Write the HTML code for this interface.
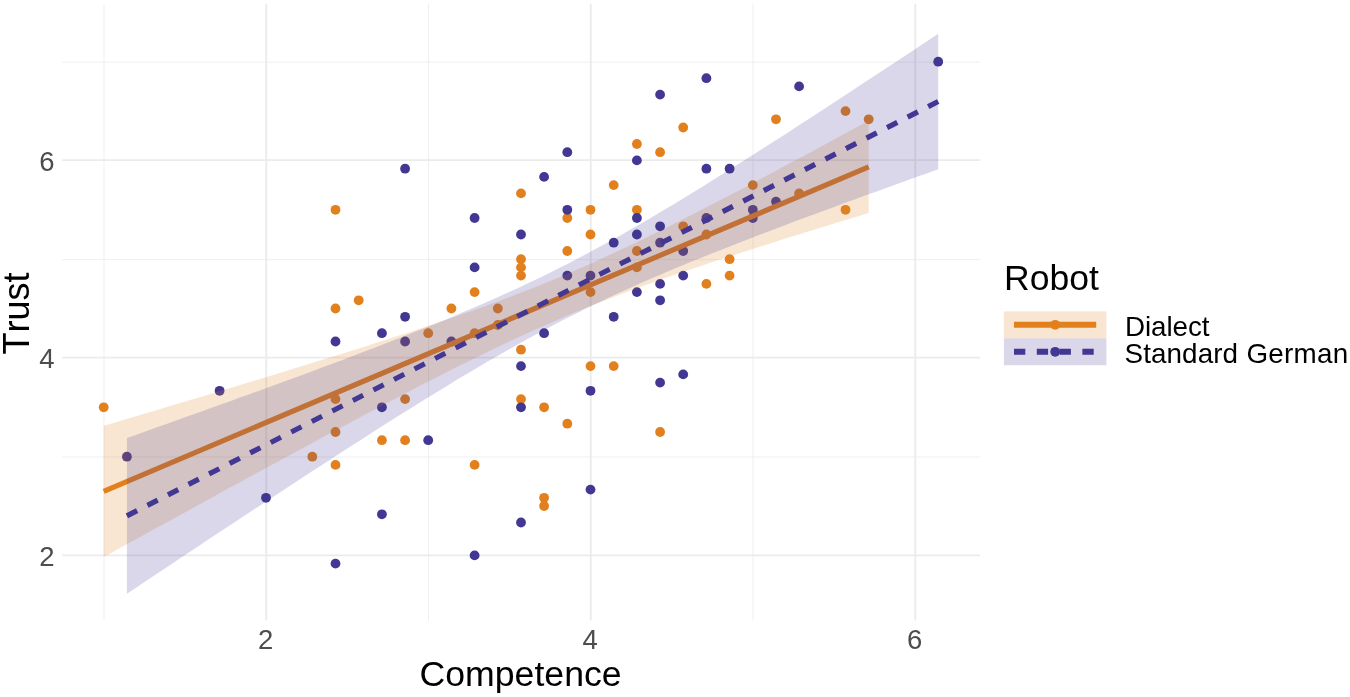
<!DOCTYPE html>
<html lang="en"><head><meta charset="utf-8"><title>Trust vs Competence</title>
<style>html,body{margin:0;padding:0;background:#fff}body{width:1350px;height:697px;overflow:hidden}</style></head>
<body>
<svg width="1350" height="697" viewBox="0 0 1350 697" style="display:block;will-change:transform">
<rect x="0" y="0" width="1350" height="697" fill="#ffffff"/>
<g stroke="#EBEBEB" fill="none">
<line x1="62.2" x2="980.2" y1="457.00" y2="457.00" stroke-width="0.8"/>
<line x1="62.2" x2="980.2" y1="259.60" y2="259.60" stroke-width="0.8"/>
<line x1="62.2" x2="980.2" y1="62.20" y2="62.20" stroke-width="0.8"/>
<line x1="104.00" x2="104.00" y1="3.8" y2="620.5" stroke-width="0.8"/>
<line x1="428.50" x2="428.50" y1="3.8" y2="620.5" stroke-width="0.8"/>
<line x1="753.00" x2="753.00" y1="3.8" y2="620.5" stroke-width="0.8"/>
<line x1="62.2" x2="980.2" y1="555.40" y2="555.40" stroke-width="1.8"/>
<line x1="62.2" x2="980.2" y1="357.60" y2="357.60" stroke-width="1.8"/>
<line x1="62.2" x2="980.2" y1="160.10" y2="160.10" stroke-width="1.8"/>
<line x1="266.25" x2="266.25" y1="3.8" y2="620.5" stroke-width="1.8"/>
<line x1="590.75" x2="590.75" y1="3.8" y2="620.5" stroke-width="1.8"/>
<line x1="915.25" x2="915.25" y1="3.8" y2="620.5" stroke-width="1.8"/>
</g>
<g fill="#E2801E">
<circle cx="103.7" cy="407.3" r="4.9"/>
<circle cx="335.5" cy="399.1" r="4.9"/>
<circle cx="405.1" cy="399.1" r="4.9"/>
<circle cx="335.5" cy="432.0" r="4.9"/>
<circle cx="381.9" cy="440.2" r="4.9"/>
<circle cx="405.1" cy="440.2" r="4.9"/>
<circle cx="312.3" cy="456.7" r="4.9"/>
<circle cx="335.5" cy="464.9" r="4.9"/>
<circle cx="335.5" cy="209.8" r="4.9"/>
<circle cx="521.0" cy="193.4" r="4.9"/>
<circle cx="521.0" cy="259.2" r="4.9"/>
<circle cx="521.0" cy="267.4" r="4.9"/>
<circle cx="521.0" cy="275.6" r="4.9"/>
<circle cx="474.6" cy="292.1" r="4.9"/>
<circle cx="335.5" cy="308.5" r="4.9"/>
<circle cx="358.7" cy="300.3" r="4.9"/>
<circle cx="451.4" cy="308.5" r="4.9"/>
<circle cx="497.8" cy="308.5" r="4.9"/>
<circle cx="428.2" cy="333.2" r="4.9"/>
<circle cx="474.6" cy="333.2" r="4.9"/>
<circle cx="497.8" cy="325.0" r="4.9"/>
<circle cx="521.0" cy="349.7" r="4.9"/>
<circle cx="521.0" cy="399.1" r="4.9"/>
<circle cx="544.1" cy="407.3" r="4.9"/>
<circle cx="567.3" cy="423.7" r="4.9"/>
<circle cx="660.1" cy="432.0" r="4.9"/>
<circle cx="474.6" cy="464.9" r="4.9"/>
<circle cx="544.1" cy="497.8" r="4.9"/>
<circle cx="544.1" cy="506.0" r="4.9"/>
<circle cx="776.0" cy="119.3" r="4.9"/>
<circle cx="683.2" cy="127.5" r="4.9"/>
<circle cx="636.9" cy="144.0" r="4.9"/>
<circle cx="660.1" cy="152.2" r="4.9"/>
<circle cx="613.7" cy="185.1" r="4.9"/>
<circle cx="752.8" cy="185.1" r="4.9"/>
<circle cx="567.3" cy="218.0" r="4.9"/>
<circle cx="567.3" cy="251.0" r="4.9"/>
<circle cx="590.5" cy="209.8" r="4.9"/>
<circle cx="590.5" cy="234.5" r="4.9"/>
<circle cx="590.5" cy="292.1" r="4.9"/>
<circle cx="636.9" cy="209.8" r="4.9"/>
<circle cx="636.9" cy="251.0" r="4.9"/>
<circle cx="636.9" cy="267.4" r="4.9"/>
<circle cx="683.2" cy="226.3" r="4.9"/>
<circle cx="706.4" cy="234.5" r="4.9"/>
<circle cx="706.4" cy="283.9" r="4.9"/>
<circle cx="729.6" cy="259.2" r="4.9"/>
<circle cx="729.6" cy="275.6" r="4.9"/>
<circle cx="799.1" cy="193.4" r="4.9"/>
<circle cx="590.5" cy="366.1" r="4.9"/>
<circle cx="613.7" cy="366.1" r="4.9"/>
<circle cx="845.5" cy="111.1" r="4.9"/>
<circle cx="868.7" cy="119.3" r="4.9"/>
<circle cx="845.5" cy="209.8" r="4.9"/>
</g>
<g fill="#423792">
<circle cx="126.9" cy="456.7" r="4.9"/>
<circle cx="219.6" cy="390.8" r="4.9"/>
<circle cx="266.0" cy="497.8" r="4.9"/>
<circle cx="335.5" cy="341.5" r="4.9"/>
<circle cx="405.1" cy="341.5" r="4.9"/>
<circle cx="381.9" cy="407.3" r="4.9"/>
<circle cx="381.9" cy="514.3" r="4.9"/>
<circle cx="405.1" cy="168.7" r="4.9"/>
<circle cx="544.1" cy="176.9" r="4.9"/>
<circle cx="474.6" cy="218.0" r="4.9"/>
<circle cx="521.0" cy="234.5" r="4.9"/>
<circle cx="474.6" cy="267.4" r="4.9"/>
<circle cx="405.1" cy="316.8" r="4.9"/>
<circle cx="381.9" cy="333.2" r="4.9"/>
<circle cx="451.4" cy="341.5" r="4.9"/>
<circle cx="544.1" cy="333.2" r="4.9"/>
<circle cx="521.0" cy="366.1" r="4.9"/>
<circle cx="428.2" cy="440.2" r="4.9"/>
<circle cx="521.0" cy="407.3" r="4.9"/>
<circle cx="590.5" cy="390.8" r="4.9"/>
<circle cx="590.5" cy="489.6" r="4.9"/>
<circle cx="335.5" cy="563.6" r="4.9"/>
<circle cx="474.6" cy="555.4" r="4.9"/>
<circle cx="521.0" cy="522.5" r="4.9"/>
<circle cx="567.3" cy="152.2" r="4.9"/>
<circle cx="660.1" cy="94.6" r="4.9"/>
<circle cx="706.4" cy="78.2" r="4.9"/>
<circle cx="799.1" cy="86.4" r="4.9"/>
<circle cx="636.9" cy="160.4" r="4.9"/>
<circle cx="706.4" cy="168.7" r="4.9"/>
<circle cx="729.6" cy="168.7" r="4.9"/>
<circle cx="567.3" cy="209.8" r="4.9"/>
<circle cx="567.3" cy="275.6" r="4.9"/>
<circle cx="590.5" cy="275.6" r="4.9"/>
<circle cx="613.7" cy="242.7" r="4.9"/>
<circle cx="636.9" cy="218.0" r="4.9"/>
<circle cx="636.9" cy="234.5" r="4.9"/>
<circle cx="636.9" cy="292.1" r="4.9"/>
<circle cx="660.1" cy="226.3" r="4.9"/>
<circle cx="660.1" cy="242.7" r="4.9"/>
<circle cx="660.1" cy="283.9" r="4.9"/>
<circle cx="660.1" cy="300.3" r="4.9"/>
<circle cx="683.2" cy="251.0" r="4.9"/>
<circle cx="683.2" cy="275.6" r="4.9"/>
<circle cx="706.4" cy="218.0" r="4.9"/>
<circle cx="752.8" cy="209.8" r="4.9"/>
<circle cx="752.8" cy="218.0" r="4.9"/>
<circle cx="776.0" cy="201.6" r="4.9"/>
<circle cx="613.7" cy="316.8" r="4.9"/>
<circle cx="683.2" cy="374.4" r="4.9"/>
<circle cx="660.1" cy="382.6" r="4.9"/>
<circle cx="938.2" cy="61.7" r="4.9"/>
</g>
<polygon points="103.7,425.8 113.4,422.9 123.1,420.1 132.8,417.2 142.4,414.3 152.1,411.4 161.8,408.5 171.5,405.6 181.2,402.7 190.9,399.8 200.5,396.9 210.2,394.0 219.9,391.1 229.6,388.2 239.3,385.3 249.0,382.3 258.6,379.4 268.3,376.5 278.0,373.5 287.7,370.5 297.4,367.6 307.1,364.6 316.7,361.6 326.4,358.6 336.1,355.6 345.8,352.5 355.5,349.5 365.2,346.4 374.8,343.3 384.5,340.2 394.2,337.1 403.9,334.0 413.6,330.8 423.3,327.6 432.9,324.3 442.6,321.0 452.3,317.7 462.0,314.3 471.7,310.9 481.4,307.5 491.0,304.0 500.7,300.4 510.4,296.7 520.1,293.0 529.8,289.2 539.5,285.4 549.1,281.4 558.8,277.4 568.5,273.3 578.2,269.1 587.9,264.9 597.6,260.5 607.2,256.1 616.9,251.6 626.6,247.0 636.3,242.4 646.0,237.7 655.7,233.0 665.3,228.2 675.0,223.3 684.7,218.4 694.4,213.5 704.1,208.5 713.8,203.5 723.4,198.5 733.1,193.5 742.8,188.4 752.5,183.3 762.2,178.1 771.9,173.0 781.5,167.8 791.2,162.6 800.9,157.4 810.6,152.2 820.3,147.0 830.0,141.8 839.6,136.5 849.3,131.3 859.0,126.0 868.7,120.8 868.7,213.0 859.0,215.9 849.3,218.9 839.6,221.8 830.0,224.8 820.3,227.8 810.6,230.8 800.9,233.8 791.2,236.8 781.5,239.8 771.9,242.9 762.2,246.0 752.5,249.0 742.8,252.2 733.1,255.3 723.4,258.4 713.8,261.6 704.1,264.9 694.4,268.1 684.7,271.4 675.0,274.7 665.3,278.1 655.7,281.5 646.0,285.0 636.3,288.5 626.6,292.1 616.9,295.7 607.2,299.5 597.6,303.3 587.9,307.1 578.2,311.1 568.5,315.1 558.8,319.2 549.1,323.4 539.5,327.7 529.8,332.1 520.1,336.5 510.4,341.0 500.7,345.6 491.0,350.2 481.4,354.9 471.7,359.7 462.0,364.5 452.3,369.3 442.6,374.2 432.9,379.2 423.3,384.1 413.6,389.1 403.9,394.2 394.2,399.2 384.5,404.3 374.8,409.4 365.2,414.6 355.5,419.7 345.8,424.9 336.1,430.1 326.4,435.3 316.7,440.5 307.1,445.7 297.4,450.9 287.7,456.2 278.0,461.4 268.3,466.7 258.6,472.0 249.0,477.2 239.3,482.5 229.6,487.8 219.9,493.1 210.2,498.4 200.5,503.7 190.9,509.0 181.2,514.4 171.5,519.7 161.8,525.0 152.1,530.3 142.4,535.7 132.8,541.0 123.1,546.3 113.4,551.7 103.7,557.0" fill="#E2801E" fill-opacity="0.2"/>
<line x1="103.7" y1="491.4" x2="868.7" y2="166.9" stroke="#E2801E" stroke-width="5.2"/>
<polygon points="126.9,438.0 137.2,434.4 147.4,430.8 157.7,427.1 168.0,423.4 178.2,419.8 188.5,416.1 198.8,412.4 209.0,408.7 219.3,405.1 229.6,401.4 239.9,397.6 250.1,393.9 260.4,390.2 270.7,386.5 280.9,382.7 291.2,378.9 301.5,375.2 311.7,371.4 322.0,367.5 332.3,363.7 342.6,359.9 352.8,356.0 363.1,352.1 373.4,348.2 383.6,344.2 393.9,340.2 404.2,336.2 414.4,332.1 424.7,328.0 435.0,323.9 445.3,319.7 455.5,315.4 465.8,311.1 476.1,306.7 486.3,302.3 496.6,297.8 506.9,293.1 517.2,288.4 527.4,283.6 537.7,278.7 548.0,273.7 558.2,268.6 568.5,263.4 578.8,258.0 589.0,252.6 599.3,247.0 609.6,241.4 619.9,235.7 630.1,229.8 640.4,223.9 650.7,217.9 660.9,211.8 671.2,205.7 681.5,199.5 691.7,193.2 702.0,186.9 712.3,180.5 722.6,174.1 732.8,167.6 743.1,161.1 753.4,154.6 763.6,148.0 773.9,141.5 784.2,134.9 794.4,128.2 804.7,121.6 815.0,114.9 825.3,108.2 835.5,101.5 845.8,94.8 856.1,88.1 866.3,81.3 876.6,74.6 886.9,67.8 897.2,61.0 907.4,54.2 917.7,47.4 928.0,40.6 938.2,33.8 938.2,169.2 928.0,172.9 917.7,176.5 907.4,180.2 897.2,183.9 886.9,187.7 876.6,191.4 866.3,195.1 856.1,198.9 845.8,202.6 835.5,206.4 825.3,210.2 815.0,214.0 804.7,217.8 794.4,221.6 784.2,225.5 773.9,229.4 763.6,233.3 753.4,237.2 743.1,241.2 732.8,245.2 722.6,249.2 712.3,253.3 702.0,257.4 691.7,261.6 681.5,265.8 671.2,270.1 660.9,274.4 650.7,278.8 640.4,283.3 630.1,287.9 619.9,292.6 609.6,297.3 599.3,302.2 589.0,307.1 578.8,312.2 568.5,317.3 558.2,322.6 548.0,328.0 537.7,333.4 527.4,339.0 517.2,344.7 506.9,350.5 496.6,356.4 486.3,362.3 476.1,368.4 465.8,374.5 455.5,380.6 445.3,386.9 435.0,393.2 424.7,399.5 414.4,405.9 404.2,412.3 393.9,418.8 383.6,425.3 373.4,431.8 363.1,438.4 352.8,445.0 342.6,451.6 332.3,458.3 322.0,464.9 311.7,471.6 301.5,478.3 291.2,485.0 280.9,491.7 270.7,498.5 260.4,505.2 250.1,512.0 239.9,518.8 229.6,525.5 219.3,532.3 209.0,539.1 198.8,545.9 188.5,552.8 178.2,559.6 168.0,566.4 157.7,573.2 147.4,580.1 137.2,586.9 126.9,593.8" fill="#423792" fill-opacity="0.2"/>
<line x1="126.9" y1="515.9" x2="938.2" y2="101.5" stroke="#423792" stroke-width="5.2" stroke-dasharray="11.5 11.57"/>
<g font-family="'Liberation Sans', Arial, sans-serif" font-size="27.5" fill="#4D4D4D" style="font-kerning:none">
<text x="54.5" y="565.9" text-anchor="end">2</text>
<text x="54.5" y="368.1" text-anchor="end">4</text>
<text x="54.5" y="170.6" text-anchor="end">6</text>
<text x="265.6" y="649.3" text-anchor="middle">2</text>
<text x="590.1" y="649.3" text-anchor="middle">4</text>
<text x="914.6" y="649.3" text-anchor="middle">6</text>
</g>
<g font-family="'Liberation Sans', Arial, sans-serif" fill="#000000" style="font-kerning:none">
<text x="520.6" y="686.4" font-size="35.65" text-anchor="middle">Competence</text>
<text transform="translate(28.7,313.5) rotate(-90)" font-size="36.0" text-anchor="middle">Trust</text>
<text x="1004.1" y="290.1" font-size="35.55">Robot</text>
<text x="1124.9" y="335.5" font-size="27.8" style="letter-spacing:-0.06px">Dialect</text>
<text x="1124.55" y="362.7" font-size="27.8"><tspan style="letter-spacing:0.095px">Standard </tspan><tspan dx="0.5" style="letter-spacing:0.26px">German</tspan></text>
</g>
<rect x="1003.9" y="311.4" width="102.5" height="27.0" fill="#E2801E" fill-opacity="0.2"/>
<rect x="1003.9" y="338.4" width="102.5" height="26.8" fill="#423792" fill-opacity="0.2"/>
<circle cx="1055.2" cy="324.8" r="4.9" fill="#E2801E"/>
<circle cx="1055.2" cy="351.8" r="4.9" fill="#423792"/>
<line x1="1014" x2="1096.2" y1="324.8" y2="324.8" stroke="#E2801E" stroke-width="6.0"/>
<line x1="1014" x2="1096.2" y1="351.8" y2="351.8" stroke="#423792" stroke-width="6.0" stroke-dasharray="11.3 11.5"/>
</svg>
</body></html>
